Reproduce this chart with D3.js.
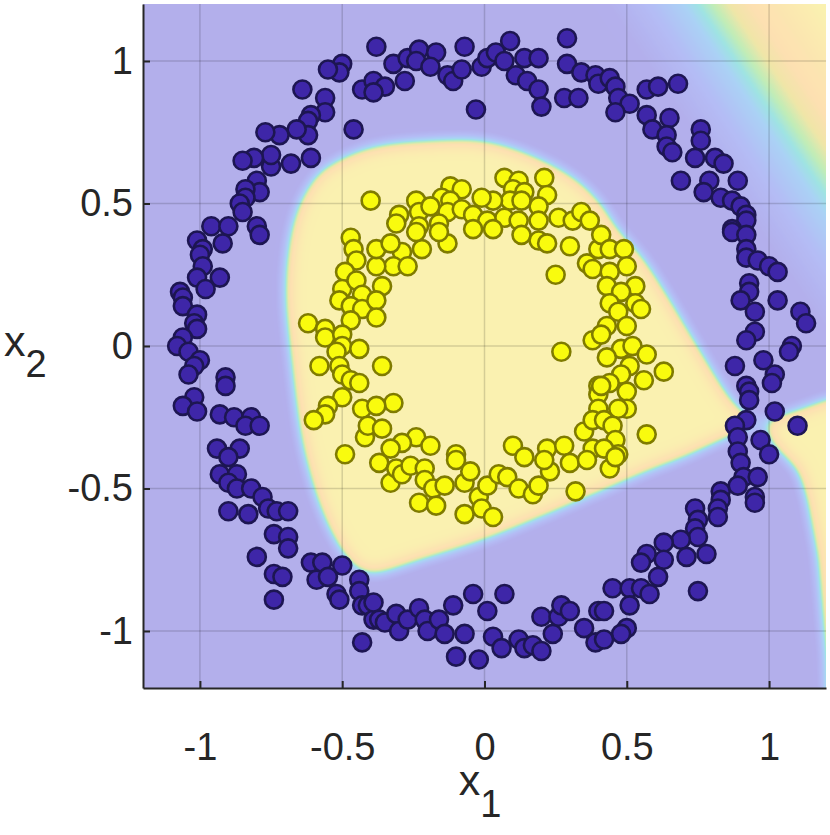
<!DOCTYPE html>
<html>
<head>
<meta charset="utf-8">
<script src="https://cdn.jsdelivr.net/npm/d3@7"></script>
<style>
    body { margin: 0; background: #fff; }
    text { font-family: "Liberation Sans", Arial, Helvetica, sans-serif; fill: #262626; }
</style>
</head>
<body>
<div id="chart"></div>
<script>
// class 1 (outer ring, purple)
const outerPoints = [
    [-0.50,0.99],[-0.51,0.96],[-0.55,0.97],[-0.64,0.90],[-0.56,0.87],[-0.56,0.82],[-0.43,0.90],[-0.39,0.93],
    [-0.61,0.81],[-0.62,0.79],[-0.62,0.74],[-0.66,0.76],[-0.72,0.74],[-0.77,0.75],[-0.46,0.76],[-0.61,0.66],
    [-0.68,0.64],[-0.75,0.63],[-0.75,0.67],[-0.81,0.66],[-0.85,0.65],[-0.80,0.58],[-0.79,0.54],[-0.84,0.55],
    [-0.84,0.52],[-0.86,0.50],[-0.85,0.47],[-0.96,0.42],[-0.90,0.42],[-0.80,0.42],
    [-0.38,1.05],[-0.32,0.99],[-0.27,1.01],[-0.23,1.04],[-0.24,1.00],[-0.17,1.03],[-0.19,0.98],[-0.13,0.95],
    [-0.11,0.93],[-0.08,0.97],[-0.07,1.05],[-0.01,0.98],[0.01,1.01],[0.04,1.03],[0.07,1.00],[0.09,1.07],
    [0.14,1.01],[0.19,1.01],[0.11,0.95],[0.15,0.93],[0.19,0.90],[0.20,0.84],[-0.03,0.83],[-0.28,0.93],
    [-0.35,0.91],[-0.39,0.89],[0.29,1.08],[0.29,0.99],[0.34,0.96],[0.39,0.95],[0.40,0.92],[0.28,0.87],[0.33,0.87],
    [0.44,0.94],[0.46,0.91],[0.47,0.87],[0.51,0.85],[0.46,0.82],[0.57,0.90],[0.61,0.91],[0.68,0.92],
    [0.57,0.81],[0.59,0.76],[0.65,0.80],[0.64,0.74],[0.64,0.70],[0.66,0.68],[0.76,0.76],[0.76,0.72],
    [0.74,0.66],[0.81,0.66],[0.84,0.64],[0.69,0.58],[0.79,0.58],[0.89,0.58],[0.77,0.54],[0.83,0.52],
    [0.87,0.51],[0.90,0.49],[0.92,0.46],[0.92,0.44],[0.87,0.41],
    [-0.79,0.39],[-1.01,0.37],[-0.92,0.36],[-0.99,0.34],[-1.00,0.32],[-0.99,0.28],[-0.93,0.24],[-1.01,0.24],
    [-0.98,0.20],[-1.07,0.19],[-1.06,0.17],[-1.06,0.14],[-1.01,0.11],[-1.02,0.08],[-1.01,0.06],[-1.06,0.03],
    [-1.08,0.00],[-1.04,-0.02],[-1.00,-0.05],[-1.02,-0.07],[-1.04,-0.10],[-0.91,-0.11],[-0.91,-0.14],[-1.02,-0.18],
    [-1.06,-0.21],[-1.01,-0.23],[-0.93,-0.24],[-0.88,-0.25],[-0.82,-0.25],[-0.84,-0.28],[-0.79,-0.28],
    [-0.94,-0.36],[-0.86,-0.36],[-0.90,-0.39],
    [0.87,0.40],[0.92,0.39],[0.92,0.34],[0.92,0.31],[0.96,0.30],[1.00,0.28],[1.03,0.26],[0.93,0.22],
    [0.93,0.19],[0.90,0.16],[1.03,0.16],[0.95,0.12],[1.11,0.12],[1.13,0.08],[0.95,0.05],[0.92,0.02],
    [1.08,0.00],[1.07,-0.02],[0.88,-0.07],[0.98,-0.05],[1.02,-0.10],[1.01,-0.13],[0.92,-0.14],[0.93,-0.16],
    [0.93,-0.19],[1.02,-0.23],[0.92,-0.26],[0.88,-0.28],[1.10,-0.28],[0.89,-0.32],[0.97,-0.33],[0.89,-0.37],
    [1.00,-0.38],[0.90,-0.41],[0.91,-0.46],[0.96,-0.46],[0.89,-0.49],[0.83,-0.51],[0.95,-0.53],
    [-0.93,-0.45],[-0.87,-0.45],[-0.90,-0.48],[-0.87,-0.50],[-0.82,-0.50],[-0.78,-0.53],[-0.76,-0.57],[-0.73,-0.58],
    [-0.69,-0.58],[-0.90,-0.58],[-0.83,-0.59],[-0.74,-0.66],[-0.69,-0.67],[-0.69,-0.71],[-0.80,-0.74],[-0.74,-0.80],
    [-0.71,-0.81],[-0.74,-0.89],[-0.61,-0.76],[-0.57,-0.76],[-0.50,-0.77],[-0.59,-0.82],[-0.55,-0.81],[-0.44,-0.82],
    [-0.52,-0.87],[-0.51,-0.89],[-0.44,-0.86],[-0.43,-0.91],[-0.41,-0.91],[-0.43,-1.04],[-0.39,-0.96],
    [-0.39,-0.90],[-0.37,-0.96],[-0.35,-0.97],[-0.31,-0.94],[-0.30,-1.00],[-0.27,-0.96],[-0.23,-0.92],[-0.21,-0.96],
    [-0.20,-1.00],[-0.16,-0.96],[-0.14,-1.01],[-0.11,-0.91],[-0.10,-1.09],[-0.07,-1.01],[-0.04,-0.87],[0.01,-0.93],
    [-0.02,-1.10],[0.07,-0.87],[0.03,-1.02],[0.06,-1.06],[0.12,-1.03],[0.14,-1.06],[0.17,-1.05],[0.20,-1.07],
    [0.20,-0.95],[0.24,-1.01],[0.26,-0.95],[0.27,-0.91],[0.30,-0.93],[0.35,-0.99],[0.40,-0.93],[0.39,-1.04],
    [0.95,-0.55],[0.83,-0.54],[0.82,-0.57],[0.82,-0.60],[0.74,-0.57],[0.75,-0.61],[0.74,-0.64],[0.75,-0.67],
    [0.69,-0.68],[0.63,-0.69],[0.57,-0.73],[0.71,-0.74],[0.78,-0.73],[0.63,-0.75],[0.55,-0.76],[0.61,-0.81],
    [0.45,-0.85],[0.51,-0.85],[0.55,-0.85],[0.58,-0.87],[0.75,-0.86],[0.51,-0.91],[0.42,-0.93],[0.50,-0.99],
    [0.48,-1.01],[0.42,-1.03]
];

// class 2 (inner ring, yellow)
const innerPoints = [
    [-0.40,0.51],
    [0.07,0.59],[0.12,0.58],[0.21,0.59],[0.10,0.55],[0.14,0.54],[0.22,0.53],[0.19,0.49],[0.09,0.51],
    [0.13,0.51],[0.03,0.51],[-0.01,0.52],[-0.12,0.56],[-0.08,0.55],[-0.15,0.52],[-0.12,0.51],[-0.24,0.51],
    [-0.30,0.46],[-0.31,0.43],[-0.23,0.47],[-0.19,0.49],[-0.13,0.47],[-0.08,0.48],[-0.04,0.46],[0.01,0.44],
    [0.07,0.45],[0.12,0.44],[0.19,0.44],[0.26,0.45],[0.31,0.44],[0.34,0.47],[0.37,0.44],[-0.23,0.42],[-0.16,0.43],
    [-0.47,0.38],[-0.46,0.34],[-0.45,0.30],[-0.49,0.26],[-0.50,0.20],[-0.51,0.16],[-0.45,0.23],[-0.43,0.18],
    [-0.47,0.14],[-0.43,0.13],[-0.47,0.09],[-0.62,0.08],[-0.56,0.06],[-0.56,0.03],[-0.50,0.04],[-0.50,0.00],
    [-0.52,-0.02],[-0.44,-0.01],[-0.58,-0.07],[-0.51,-0.07],[-0.50,-0.10],[-0.47,-0.12],[-0.44,-0.13],[-0.50,-0.18],
    [-0.55,-0.21],[-0.56,-0.24],[-0.60,-0.26],[-0.43,-0.22],[-0.42,-0.32],[-0.41,-0.28],[-0.49,-0.38],
    [-0.13,0.36],[-0.22,0.34],[-0.29,0.33],[-0.32,0.28],[-0.27,0.28],[-0.38,0.28],[-0.36,0.21],[-0.38,0.16],
    [-0.38,0.10],[-0.38,0.34],[-0.33,0.36],[-0.24,0.40],[-0.16,0.40],[-0.04,0.41],[0.03,0.41],[0.13,0.39],
    [0.19,0.37],[0.22,0.36],[0.30,0.35],[0.36,0.29],[0.38,0.27],[0.40,0.34],[0.25,0.25],[0.27,-0.02],
    [-0.36,-0.07],[-0.32,-0.20],[-0.38,-0.21],[-0.36,-0.29],[-0.24,-0.32],[-0.19,-0.35],[-0.29,-0.34],[-0.33,-0.36],
    [-0.10,-0.38],[0.10,-0.35],[0.14,-0.39],[0.22,-0.36],[0.28,-0.35],[0.35,-0.30],[0.38,-0.36],[0.38,0.02],
    [0.40,-0.14],[0.40,-0.17],[0.40,-0.22],[0.38,-0.26],
    [0.41,0.39],[0.44,0.34],[0.49,0.34],[0.50,0.28],[0.44,0.26],[0.53,0.21],[0.43,0.21],[0.48,0.19],
    [0.44,0.15],[0.53,0.15],[0.55,0.13],[0.47,0.12],[0.50,0.07],[0.43,0.07],[0.41,0.04],[0.48,-0.01],
    [0.52,0.00],[0.57,-0.03],[0.43,-0.04],[0.51,-0.07],[0.63,-0.09],[0.48,-0.10],[0.44,-0.13],[0.56,-0.12],
    [0.50,-0.16],[0.41,-0.14],[0.50,-0.22],[0.47,-0.22],[0.42,-0.26],[0.45,-0.28],[0.57,-0.31],[0.46,-0.33],
    [0.47,-0.38],[0.42,-0.36],
    [-0.37,-0.41],[-0.33,-0.48],[-0.31,-0.43],[-0.29,-0.45],[-0.26,-0.42],[-0.23,-0.55],[-0.21,-0.43],[-0.21,-0.47],
    [-0.18,-0.50],[-0.17,-0.56],[-0.14,-0.49],[-0.10,-0.40],[-0.07,-0.48],[-0.05,-0.44],[-0.07,-0.59],[-0.02,-0.53],
    [-0.01,-0.57],[0.03,-0.60],[0.01,-0.49],[0.05,-0.45],[0.08,-0.46],[0.12,-0.50],[0.17,-0.52],[0.19,-0.49],
    [0.23,-0.44],[0.21,-0.40],[0.30,-0.41],[0.32,-0.51],[0.36,-0.40],[0.44,-0.43],[0.46,-0.39]
];

// decision regions of class 2 (outline of each yellow area)
const mainRegion = [
    [-0.70,0.18],[-0.69,0.34],[-0.665,0.46],[-0.63,0.54],[-0.58,0.61],[-0.50,0.66],[-0.39,0.70],[-0.22,0.72],
    [0.00,0.72],[0.19,0.66],[0.33,0.58],[0.41,0.50],[0.47,0.41],[0.55,0.32],[0.63,0.20],[0.75,0.00],
    [0.87,-0.19],[0.92,-0.24],[0.96,-0.27],[0.88,-0.31],[0.76,-0.365],[0.715,-0.385],[0.55,-0.45],[0.40,-0.515],
    [0.20,-0.60],[0.00,-0.68],[-0.22,-0.75],[-0.40,-0.80],[-0.45,-0.78],[-0.52,-0.69],[-0.58,-0.56],[-0.63,-0.39],
    [-0.65,-0.29],[-0.68,-0.05]
];
const rightRegion = [
    [0.98,-0.26],[1.08,-0.23],[1.22,-0.18],[1.5,-0.15],[1.5,-1.5],[1.21,-1.5],[1.20,-1.09],
    [1.17,-0.74],[1.13,-0.53],[1.10,-0.435],[1.03,-0.365],[1.00,-0.33]
];
// the top-right corner: a soft, nearly straight edge between these two points
const cornerEdge = [[0.75, 1.2], [1.205, 0.523]];
const cornerSpread = 0.35;

const tickValues = [-1, -0.5, 0, 0.5, 1];
const tickLabels = ["-1", "-0.5", "0", "0.5", "1"];

// light colormap used for the background field
const cmapStops  = [0, 0.12, 0.30, 0.44, 0.50, 0.56, 0.63, 0.72, 0.88, 1];
const cmapColors = ["#b3afeb", "#b3afec", "#b4bdf6", "#abd2f6", "#9fe4e3", "#c0edb8", "#f0e6a8", "#fde0b2", "#fce9b1", "#fbf1b1"];

document.addEventListener("DOMContentLoaded", () => {
    const W = 830, H = 835;
    const margin = { top: 4, right: 4, bottom: 147, left: 143 },
          width = W - margin.left - margin.right,
          height = H - margin.top - margin.bottom;

    const root = d3.select("#chart").append("svg")
                   .attr("width", W)
                   .attr("height", H);

    const svg = root.append("g")
                    .attr("transform", `translate(${margin.left},${margin.top})`);

    const x = d3.scaleLinear().domain([-1.2, 1.2]).range([0, width]);
    const y = d3.scaleLinear().domain([-1.2, 1.2]).range([height, 0]);

    const defs = root.append("defs");
    defs.append("clipPath").attr("id", "plotClip")
        .append("rect").attr("width", width).attr("height", height);

    defs.append("filter").attr("id", "blurMain")
        .attr("filterUnits", "userSpaceOnUse")
        .attr("x", -300).attr("y", -300)
        .attr("width", width + 600).attr("height", height + 600)
        .attr("color-interpolation-filters", "sRGB")
        .append("feGaussianBlur").attr("stdDeviation", 9);

    // soft corner: grey ramp across the edge, perpendicular to it
    const [e0, e1] = cornerEdge.map(p => [x(p[0]), y(p[1])]);
    const cx = (e0[0] + e1[0]) / 2, cy = (e0[1] + e1[1]) / 2;
    const len = Math.hypot(e1[0] - e0[0], e1[1] - e0[1]);
    const nx = (e1[1] - e0[1]) / len, ny = -(e1[0] - e0[0]) / len;
    const spread = x(cornerSpread) - x(0);
    const ramp = defs.append("linearGradient").attr("id", "cornerRamp")
        .attr("gradientUnits", "userSpaceOnUse")
        .attr("x1", cx - nx * spread).attr("y1", cy - ny * spread)
        .attr("x2", cx + nx * spread).attr("y2", cy + ny * spread);
    ramp.append("stop").attr("offset", 0).attr("stop-color", "#000");
    ramp.append("stop").attr("offset", 1).attr("stop-color", "#fff");

    // grey level -> colour, through a lookup table
    const cmap = d3.scaleLinear().domain(cmapStops).range(cmapColors).interpolate(d3.interpolateRgb);
    const samples = d3.range(65).map(i => d3.rgb(cmap(i / 64)));
    const colorize = defs.append("filter").attr("id", "colorize")
        .attr("filterUnits", "userSpaceOnUse")
        .attr("x", 0).attr("y", 0).attr("width", width).attr("height", height)
        .attr("color-interpolation-filters", "sRGB")
        .append("feComponentTransfer");
    [["R", "r"], ["G", "g"], ["B", "b"]].forEach(([ch, key]) => {
        colorize.append(`feFunc${ch}`).attr("type", "table")
            .attr("tableValues", samples.map(c => (c[key] / 255).toFixed(4)).join(" "));
    });

    // background decision field
    const field = svg.append("g").attr("clip-path", "url(#plotClip)")
                     .append("g").attr("filter", "url(#colorize)");
    field.append("rect").attr("x", -50).attr("y", -50)
         .attr("width", width + 100).attr("height", height + 100).attr("fill", "url(#cornerRamp)");

    const smooth = d3.line().x(d => x(d[0])).y(d => y(d[1])).curve(d3.curveCatmullRomClosed.alpha(0.5));
    const straight = d3.line().x(d => x(d[0])).y(d => y(d[1])).curve(d3.curveLinearClosed);

    const sharp = field.append("g").attr("filter", "url(#blurMain)");
    sharp.append("path").attr("d", smooth(mainRegion)).attr("fill", "#fff");
    sharp.append("path").attr("d", straight(rightRegion)).attr("fill", "#fff");

    // grid
    const grid = svg.append("g").attr("class", "grid");
    grid.selectAll(".gx").data(tickValues).join("line")
        .attr("x1", d => x(d)).attr("x2", d => x(d))
        .attr("y1", 0).attr("y2", height)
        .attr("stroke", "#000").attr("stroke-opacity", 0.15).attr("stroke-width", 1.5);
    grid.selectAll(".gy").data(tickValues).join("line")
        .attr("y1", d => y(d)).attr("y2", d => y(d))
        .attr("x1", 0).attr("x2", width)
        .attr("stroke", "#000").attr("stroke-opacity", 0.15).attr("stroke-width", 1.5);

    // points
    svg.append("g").selectAll("circle").data(outerPoints).join("circle")
       .attr("cx", d => x(d[0])).attr("cy", d => y(d[1])).attr("r", 9)
       .attr("fill", "#3e26a8").attr("stroke", "#1d1652").attr("stroke-width", 2.6);
    svg.append("g").selectAll("circle").data(innerPoints).join("circle")
       .attr("cx", d => x(d[0])).attr("cy", d => y(d[1])).attr("r", 9)
       .attr("fill", "#f9fb0e").attr("stroke", "#7f7b00").attr("stroke-width", 2.6);

    // axes
    const xAxis = svg.append("g").attr("class", "x-axis")
        .attr("transform", `translate(0,${height})`)
        .call(d3.axisBottom(x).tickValues(tickValues).tickFormat((d, i) => tickLabels[i])
              .tickSizeInner(-7).tickSizeOuter(0).tickPadding(45));
    const yAxis = svg.append("g").attr("class", "y-axis")
        .call(d3.axisLeft(y).tickValues(tickValues).tickFormat((d, i) => tickLabels[i])
              .tickSizeInner(-7).tickSizeOuter(0).tickPadding(10));

    [xAxis, yAxis].forEach(a => {
        a.select(".domain").attr("stroke", "#262626").attr("stroke-width", 2);
        a.selectAll(".tick line").attr("stroke", "#262626").attr("stroke-width", 2);
        a.selectAll("text").style("font-size", "38px")
         .style("font-family", "'Liberation Sans', Arial, sans-serif").attr("fill", "#262626");
    });

    // axis titles
    const xt = root.append("text").attr("x", 480).attr("y", 795)
                   .attr("text-anchor", "middle");
    xt.append("tspan").style("font-size", "43px").text("x");
    xt.append("tspan").style("font-size", "38px").attr("dy", 22).text("1");

    const yt = root.append("text").attr("x", 4).attr("y", 356);
    yt.append("tspan").style("font-size", "43px").text("x");
    yt.append("tspan").style("font-size", "38px").attr("dy", 21).text("2");
});
</script>
</body>
</html>
